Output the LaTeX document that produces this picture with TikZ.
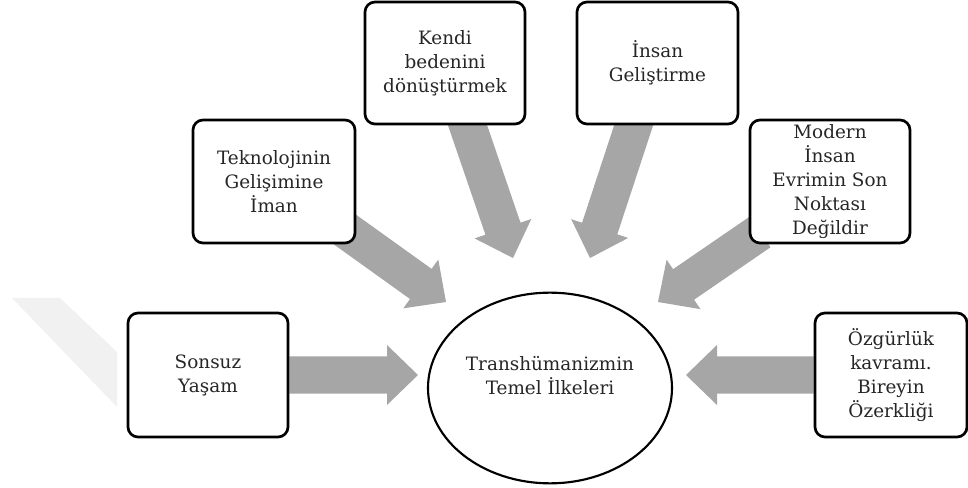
\documentclass[tikz,border=0pt]{standalone}
\usepackage{fontspec}
\setmainfont{DejaVu Serif}
\usetikzlibrary{shapes.geometric,calc,backgrounds}
\definecolor{arrowgray}{HTML}{A6A6A6}
\definecolor{wmgray}{HTML}{F1F1F1}
\definecolor{txt}{HTML}{262626}
\newcommand\fatarrow[2]{%
  \coordinate (fa-c) at ($(#2)!23.25pt!(#1)$);
  \fill[arrowgray] ($(#1)!13.9pt!90:(#2)$) -- ($(fa-c)!13.9pt!90:(#2)$)
    -- ($(fa-c)!22.5pt!90:(#2)$) -- (#2) -- ($(fa-c)!22.5pt!-90:(#2)$)
    -- ($(fa-c)!13.9pt!-90:(#2)$) -- ($(#1)!13.9pt!-90:(#2)$) -- cycle;}
\begin{document}
\begin{tikzpicture}[x=0.75pt,y=-0.75pt,
  box/.style={draw=black, line width=2pt, rounded corners=7.5pt, fill=white,
    align=center, text=txt, font=\fontsize{13.8}{18}\selectfont, inner sep=1pt},
  lbl/.style={align=center, text=txt, font=\fontsize{13.8}{18}\selectfont}]
\useasboundingbox (0,0) rectangle (968,488);
% watermark
\fill[wmgray] (12,298) -- (60,298) -- (117,352) -- (117,407) -- cycle;
% central ellipse
\node[ellipse, draw=black, line width=1.6pt, fill=white, minimum width=183pt, minimum height=143pt, inner sep=0pt] (c) at (550,388) {};
\node[lbl] (ct) at (550,376) {Transhümanizmin\\Temel İlkeleri};
% boxes
\node[box, minimum width=120pt, minimum height=93pt] (s) at (208,375) {Sonsuz\\Yaşam};
\node[box, minimum width=114pt, minimum height=93pt] (o) at (891,375) {Özgürlük\\kavramı.\\Bireyin\\Özerkliği};
\node[box, minimum width=121.5pt, minimum height=92.25pt] (t) at (274,181.5) {Teknolojinin\\Gelişimine\\İman};
\node[box, minimum width=120pt, minimum height=91.5pt] (k) at (445,63) {Kendi\\bedenini\\dönüştürmek};
\node[box, minimum width=120.75pt, minimum height=91.5pt] (i) at (657.5,63) {İnsan\\Geliştirme};
\node[box, minimum width=120pt, minimum height=92.25pt] (m) at (830,181.5) {Modern\\İnsan\\Evrimin Son\\Noktası\\Değildir};
% arrow ends
\coordinate (s-tip) at (418,375);
\coordinate (o-tip) at (686,375);
\coordinate (t-tail) at (340,226);
\coordinate (t-tip) at (446,302);
\coordinate (k-tail) at (463,112);
\coordinate (k-tip) at (513,258);
\coordinate (i-tail) at (638,112);
\coordinate (i-tip) at (590,258);
\coordinate (m-tail) at (760,232);
\coordinate (m-tip) at (658,302);
\begin{pgfonlayer}{background}
\fatarrow{s.east}{s-tip}
\fatarrow{o.west}{o-tip}
\fatarrow{t-tail}{t-tip}
\fatarrow{k-tail}{k-tip}
\fatarrow{i-tail}{i-tip}
\fatarrow{m-tail}{m-tip}
\end{pgfonlayer}
\end{tikzpicture}
\end{document}
